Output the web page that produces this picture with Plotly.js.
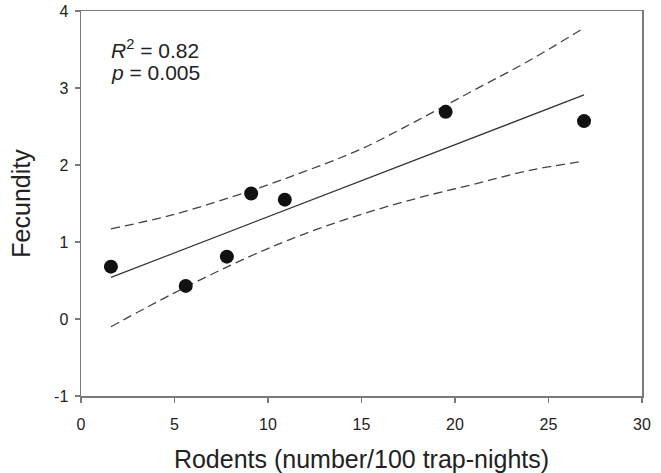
<!DOCTYPE html>
<html>
<head>
<meta charset="utf-8">
<script src="https://cdn.plot.ly/plotly-3.0.1.min.js"></script>
<style>html,body{margin:0;padding:0;background:#fff}#chart{width:661px;height:473px}</style>
</head>
<body>
<div id="chart"></div>
<script>
// Observed points
var rodents = [1.6, 5.6, 7.8, 9.1, 10.9, 19.5, 26.9];
var fecundity = [0.68, 0.43, 0.81, 1.63, 1.55, 2.69, 2.57];

// Regression line
var fitX = [1.6, 26.9];
var fitY = [0.54, 2.91];

// Confidence band
var bandX = [1.6, 5, 9, 12, 15, 18, 21, 24, 26.9];
var upperY = [1.17, 1.36, 1.66, 1.92, 2.21, 2.58, 2.97, 3.36, 3.78];
var lowerY = [-0.10, 0.34, 0.81, 1.11, 1.36, 1.57, 1.75, 1.93, 2.05];

var xTicks = [0, 5, 10, 15, 20, 25, 30];
var yTicks = [-1, 0, 1, 2, 3, 4];

var FONT = "Liberation Sans, Arial, sans-serif";
var dashStyle = {color: "#444", width: 1.3, dash: "9px,5px", shape: "spline"};

var traces = [
  {x: bandX, y: upperY, mode: "lines", line: dashStyle, hoverinfo: "skip"},
  {x: bandX, y: lowerY, mode: "lines", line: dashStyle, hoverinfo: "skip"},
  {x: fitX, y: fitY, mode: "lines", line: {color: "#333", width: 1.2}},
  {x: rodents, y: fecundity, mode: "markers",
   marker: {symbol: "circle", size: 14, color: "#111"}}
];

var axisCommon = {
  showline: true, linecolor: "#7a7a7a", linewidth: 1.5, mirror: true,
  ticks: "outside", ticklen: 5, tickwidth: 1.2, tickcolor: "#7a7a7a",
  showgrid: false, zeroline: false,
  tickfont: {family: FONT, size: 16, color: "#222"}
};

var layout = {
  width: 661, height: 473,
  margin: {l: 81, r: 19, t: 11, b: 77},
  paper_bgcolor: "#fff", plot_bgcolor: "#fff",
  showlegend: false,
  font: {family: FONT, color: "#222"},
  xaxis: Object.assign({}, axisCommon, {
    range: [0, 30], tickvals: xTicks, ticktext: xTicks.map(String),
    ticklabelstandoff: 8,
    title: {text: "Rodents (number/100 trap-nights)", font: {family: FONT, size: 25, color: "#222"}, standoff: 22}
  }),
  yaxis: Object.assign({}, axisCommon, {
    range: [-1, 4], tickvals: yTicks, ticktext: yTicks.map(String),
    ticklabelstandoff: 3,
    title: {text: "Fecundity", font: {family: FONT, size: 25, color: "#222"}, standoff: 16}
  }),
  annotations: [
    {xref: "paper", yref: "paper", x: 0.05, y: 0.90, xanchor: "left", yanchor: "middle",
     text: "<i>R</i><sup>2</sup> = 0.82", showarrow: false, font: {family: FONT, size: 21, color: "#222"}},
    {xref: "paper", yref: "paper", x: 0.05, y: 0.84, xanchor: "left", yanchor: "middle",
     text: "<i>p</i> = 0.005", showarrow: false, font: {family: FONT, size: 21, color: "#222"}}
  ]
};

Plotly.newPlot("chart", traces, layout, {displayModeBar: false, staticPlot: true});
</script>
</body>
</html>
